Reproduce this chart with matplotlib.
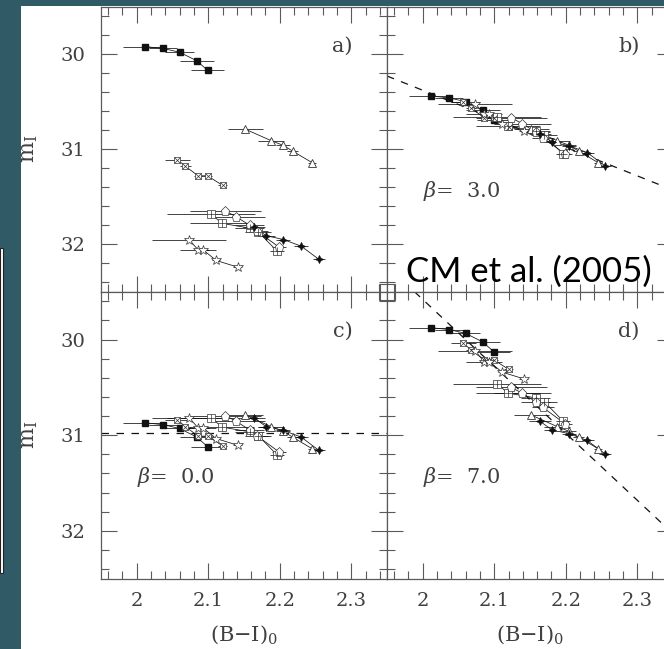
#!/usr/bin/python3
import matplotlib as mpl
mpl.use('Agg')
import matplotlib.pyplot as plt
from matplotlib.patches import Rectangle

# (B-I)_0 colour of every point, one list per supernova (marker type)
bi_fsq = [2.011, 2.037, 2.060, 2.084, 2.099]
bi_tri = [2.152, 2.188, 2.205, 2.218, 2.245]
bi_sbx = [2.057, 2.068, 2.086, 2.099, 2.120]
bi_osq = [2.104, 2.119, 2.158, 2.170, 2.196]
bi_pen = [2.124, 2.139, 2.158, 2.168, 2.199]
bi_fst = [2.164, 2.181, 2.205, 2.230, 2.255]
bi_ost = [2.073, 2.086, 2.093, 2.111, 2.141]

# m_I as shown in panel a)
mi_fsq = [29.92, 29.94, 29.98, 30.07, 30.17]
mi_tri = [30.79, 30.91, 30.96, 31.02, 31.14]
mi_sbx = [31.11, 31.18, 31.28, 31.28, 31.38]
mi_osq = [31.68, 31.78, 31.83, 31.87, 32.07]
mi_pen = [31.65, 31.71, 31.80, 31.86, 32.03]
mi_fst = [31.82, 31.91, 31.95, 32.02, 32.16]
mi_ost = [31.95, 32.06, 32.06, 32.17, 32.24]

# colour errors
err_fsq = [0.030, 0.020, 0.020, 0.024, 0.023]
err_tri = [0.025, 0.018, 0.010, 0.008, 0.006]
err_sbx = [0.017, 0.008, 0.006, 0.006, 0.006]
err_osq = [0.062, 0.045, 0.020, 0.018, 0.010]
err_pen = [0.050, 0.040, 0.020, 0.015, 0.010]
err_fst = [0.015, 0.012, 0.010, 0.010, 0.008]
err_ost = [0.052, 0.025, 0.008, 0.006, 0.006]

# vertical shift of each supernova in panels a), b), c), d)
shift_fsq = [0.0, 0.52, 0.95, -0.045]
shift_tri = [0.0, 0.0, 0.0, 0.0]
shift_sbx = [0.0, -0.61, -0.27, -1.07]
shift_osq = [0.0, -1.02, -0.865, -1.22]
shift_pen = [0.0, -0.98, -0.855, -1.15]
shift_fst = [0.0, -0.985, -1.0, -0.965]
shift_ost = [0.0, -1.43, -1.135, -1.83]

panel_names = ["a)", "b)", "c)", "d)"]
betas = [None, 3.0, 0.0, 7.0]
beta_texts = ["", r"$\beta$=  3.0", r"$\beta$=  0.0", r"$\beta$=  7.0"]
pivot_bi = 2.2
pivot_mi = 30.98

ink = '#111111'
frame = '#5a5a5a'
label_col = '#404040'
edge = '#333333'

plt.rcParams['font.family'] = 'DejaVu Serif'
plt.rcParams['mathtext.fontset'] = 'dejavuserif'


def draw_set(ax, bi, mi, err, shift, style, overlay=None):
    m = [v + shift for v in mi]
    ax.errorbar(bi, m, xerr=err, fmt='none', ecolor=ink, elinewidth=0.55,
                capsize=0, zorder=2)
    ax.plot(bi, m, '-', color=ink, lw=0.55, zorder=3)
    ax.plot(bi, m, linestyle='none', zorder=4, **style)
    if overlay is not None:
        ax.plot(bi, m, linestyle='none', zorder=5, **overlay)


def setup_axis(ax, left, bottom):
    ax.set_xlim(1.95, 2.35)
    ax.set_ylim(32.5, 29.5)
    ax.set_xticks([2.0, 2.1, 2.2, 2.3])
    ax.set_xticklabels(["2", "2.1", "2.2", "2.3"])
    ax.set_xticks([1.96, 1.98, 2.02, 2.04, 2.06, 2.08, 2.12, 2.14, 2.16,
                   2.18, 2.22, 2.24, 2.26, 2.28, 2.32, 2.34], minor=True)
    ax.set_yticks([30, 31, 32])
    ax.set_yticks([29.6, 29.8, 30.2, 30.4, 30.6, 30.8, 31.2, 31.4, 31.6,
                   31.8, 32.2, 32.4], minor=True)
    ax.tick_params(which='both', direction='in', top=True, right=True,
                   color=frame, width=0.8, labelcolor=label_col,
                   labelsize=14)
    ax.tick_params(which='major', length=11.5)
    ax.tick_params(which='minor', length=6)
    ax.tick_params(axis='y', pad=11)
    ax.tick_params(axis='x', pad=10)
    if not left:
        ax.tick_params(axis='y', labelleft=False)
    else:
        ax.set_ylabel(r"$\mathrm{m}_\mathrm{I}$", fontsize=16, color=label_col)
        ax.yaxis.set_label_coords(-0.213, 0.5)
    if not bottom:
        ax.tick_params(axis='x', labelbottom=False)
    else:
        ax.set_xlabel(r"(B$-$I)$_0$", fontsize=15, color=label_col)
        ax.xaxis.set_label_coords(0.5, -0.155)
    for s in ax.spines.values():
        s.set_color(frame)
        s.set_linewidth(0.9)


def main():
    fig = plt.figure(figsize=(6.64, 6.49), dpi=100)
    fig.patch.set_facecolor('#2f5a66')
    # white slide area and a sliver of another figure at the far left
    fig.patches.append(Rectangle((21 / 664, 0), 1, 1 - 6 / 649,
                                 transform=fig.transFigure, facecolor='white',
                                 edgecolor='none', zorder=-2))
    fig.patches.append(Rectangle((0, 1 - 573 / 649), 3 / 664, 325 / 649,
                                 transform=fig.transFigure, facecolor='white',
                                 edgecolor='#222222', lw=0.8, zorder=-2))

    w = 0.4307
    boxes = [[0.1521, 0.5504, w, 0.4394], [0.5828, 0.5504, w, 0.4394],
             [0.1521, 0.1085, w, 0.4419], [0.5828, 0.1085, w, 0.4419]]

    for i, box in enumerate(boxes):
        ax = fig.add_axes(box)
        ax.set_facecolor('white')
        setup_axis(ax, left=(i % 2 == 0), bottom=(i >= 2))

        draw_set(ax, bi_fsq, mi_fsq, err_fsq, shift_fsq[i],
                 dict(marker='s', ms=4.5, mfc=ink, mec=ink))
        draw_set(ax, bi_tri, mi_tri, err_tri, shift_tri[i],
                 dict(marker='^', ms=5.5, mfc='white', mec=edge, mew=0.6))
        draw_set(ax, bi_sbx, mi_sbx, err_sbx, shift_sbx[i],
                 dict(marker='s', ms=4.2, mfc='white', mec=edge, mew=0.5),
                 dict(marker='x', ms=4.2, mec=edge, mew=0.5))
        draw_set(ax, bi_osq, mi_osq, err_osq, shift_osq[i],
                 dict(marker='s', ms=5.2, mfc='white', mec=edge, mew=0.5),
                 dict(marker='+', ms=5.2, mec=edge, mew=0.5))
        draw_set(ax, bi_pen, mi_pen, err_pen, shift_pen[i],
                 dict(marker='p', ms=6.5, mfc='white', mec=edge, mew=0.5))
        draw_set(ax, bi_fst, mi_fst, err_fst, shift_fst[i],
                 dict(marker=(4, 1, 0), ms=6, mfc=ink, mec=ink, mew=0.3))
        draw_set(ax, bi_ost, mi_ost, err_ost, shift_ost[i],
                 dict(marker='*', ms=7.5, mfc='white', mec=edge, mew=0.5))

        if betas[i] is not None:
            ax.axline((pivot_bi, pivot_mi), slope=betas[i], color=ink,
                      lw=0.9, dashes=(6, 6), zorder=1)
            ax.text(0.127, 0.355, beta_texts[i], transform=ax.transAxes,
                    fontsize=15, color=label_col, ha='left', va='center')
        ax.text(0.845, 0.862, panel_names[i], transform=ax.transAxes,
                fontsize=15, color=label_col, ha='center', va='center')

    # small box where the four panels meet
    fig.patches.append(Rectangle(((387 - 8) / 664, 1 - (292 + 8) / 649),
                                 16 / 664, 16 / 649,
                                 transform=fig.transFigure, facecolor='none',
                                 edgecolor=frame, lw=0.8, zorder=5))

    fig.text(528.5 / 664, 1 - 281.5 / 649, "CM et al. (2005)", fontsize=25,
             family='Lato', color='black', ha='center', va='baseline',
             zorder=10)

    fig.savefig("out.png", dpi=100, facecolor=fig.get_facecolor())


if __name__ == '__main__':
    main()
